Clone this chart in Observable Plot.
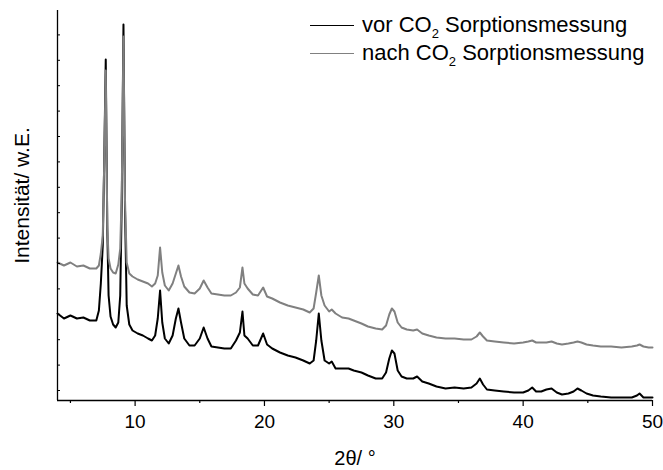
<!DOCTYPE html>
<html><head><meta charset="utf-8">
<script src="https://cdn.jsdelivr.net/npm/d3@7"></script>
<script src="https://cdn.jsdelivr.net/npm/@observablehq/plot@0.6"></script>
<style>
body{margin:0;background:#fff;font-family:"Liberation Sans",Arial,sans-serif;}
#wrap{position:relative;width:663px;height:470px;}
.legend{position:absolute;left:310px;top:11px;font-size:22px;color:#000;line-height:1;}
.row{display:flex;align-items:center;height:28px;white-space:nowrap;}
.sw{width:44px;height:0;margin-right:8px;}
sub{font-size:13px;vertical-align:-6px;line-height:0;}
#wrap svg [aria-label="x-axis tick label"] text{font-size:19px;}
#wrap svg [aria-label="x-axis label"] text, #wrap svg [aria-label="x-axis label"]{font-size:20px;}
</style></head><body><div id="wrap"></div>
<script>
// 2θ angles (°)
const angles = [4.0,4.5,5.0,5.5,6.0,6.5,7.0,7.2,7.35,7.5,7.6,7.73,7.85,7.95,8.1,8.3,8.5,8.7,8.85,8.97,9.1,9.22,9.35,9.55,9.8,10.2,10.6,11.0,11.3,11.55,11.75,11.93,12.1,12.3,12.6,12.9,13.15,13.35,13.55,13.8,14.2,14.6,15.0,15.3,15.6,15.9,16.4,16.9,17.4,17.8,18.1,18.3,18.45,18.7,19.1,19.5,19.9,20.2,20.6,21.2,21.8,22.4,23.0,23.5,23.8,24.0,24.2,24.4,24.65,25.0,25.2,25.5,26.0,26.5,26.9,27.5,28.0,28.6,29.1,29.4,29.65,29.85,30.05,30.3,30.6,31.0,31.5,31.8,32.2,32.7,33.3,34.0,34.7,35.4,36.0,36.4,36.65,36.9,37.2,37.8,38.5,39.3,40.0,40.4,40.7,41.0,41.4,41.8,42.2,42.6,43.0,43.5,43.9,44.2,44.5,44.9,45.4,46.0,46.8,47.6,48.4,48.8,49.0,49.3,49.7,50.0];
// intensity (a.u.) before CO2 sorption
const vorValues = [77,72,75,72,73,70,70,80,107,145,220,331,160,95,74,66,63,68,95,190,366,180,85,66,60,57,55,52,50,55,72,100,68,52,47,55,72,82,68,52,45,45,52,63,52,44,43,42,42,50,58,79,55,52,45,45,57,46,42,38,35,33,30,27,30,50,77,50,30,27,29,22,22,22,20,18,15,12,12,18,32,40,37,20,14,12,12,14,9,7,4,2,3,2,3,7,12,6,1,0,-1,-2,-2,0,3,-1,-1,1,2,-2,-4,-3,-1,2,0,-3,-5,-6,-7,-7,-7,-5,-3,-7,-7,-7];
// intensity (a.u.) after CO2 sorption
const nachValues = [128,125,128,124,125,122,122,125,137,155,220,320,165,132,122,118,117,126,142,200,354,190,128,117,114,111,109,107,104,107,115,143,118,105,100,107,117,125,114,104,98,97,102,110,103,97,96,95,95,98,103,123,107,102,96,95,103,94,92,88,85,83,81,78,82,98,115,95,85,79,81,77,73,72,70,67,64,62,61,65,76,82,79,68,63,61,60,61,57,55,53,52,52,51,51,54,58,54,50,49,48,47,48,49,50,48,48,48,49,47,46,47,48,49,48,46,45,44,44,43,44,45,46,44,43,43];
const xTicks = [10,20,30,40,50];
const xMinorTicks = [5,15,25,35,45];
const yTicks = [0,25.4,50.8,76.2,101.6,127,152.4,177.8,203.2,228.6,254,279.4,304.8,330.2,355.6];
const seriesNames = ["vor CO", "nach CO"];
const seriesColors = ["#000000", "#808080"];

const chart = Plot.plot({
  width: 663, height: 470,
  marginLeft: 57, marginRight: 11, marginTop: 10, marginBottom: 70,
  style: {fontFamily: "'Liberation Sans', Arial, sans-serif", fontSize: "18px", background: "white", color: "black"},
  x: {domain: [4, 50]},
  y: {domain: [-10, 380]},
  marks: [
    Plot.line(angles, {x: d => d, y: (d, i) => vorValues[i], stroke: seriesColors[0], strokeWidth: 2}),
    Plot.line(angles, {x: d => d, y: (d, i) => nachValues[i], stroke: seriesColors[1], strokeWidth: 2}),
    Plot.axisX(xMinorTicks, {tickSize: 3, fill: "none", strokeWidth: 1.2}),
    Plot.axisX(xTicks, {tickSize: 6, tickPadding: 8, strokeWidth: 1.2, label: "2θ/ °", labelAnchor: "center", labelOffset: 64, labelArrow: "none"}),
    Plot.axisY(yTicks, {tickSize: -3, fill: "none", strokeWidth: 1}),
    Plot.ruleX([4], {strokeWidth: 1.3}),
    Plot.ruleY([-10], {strokeWidth: 1.3}),
    Plot.text(["Intensität/ w.E."], {text: d => d, frameAnchor: "left", textAnchor: "middle", rotate: -90, dx: -35, dy: -10, fontSize: 21})
  ]
});
const wrap = document.getElementById("wrap");
wrap.appendChild(chart);
const leg = document.createElement("div");
leg.className = "legend";
leg.innerHTML = seriesNames.map((n, i) =>
  `<div class="row"><span class="sw" style="border-top:${i ? 1.2 : 1.5}px solid ${seriesColors[i]}"></span><span>${n}<sub>2</sub> Sorptionsmessung</span></div>`).join("");
wrap.appendChild(leg);
</script>
</body></html>
